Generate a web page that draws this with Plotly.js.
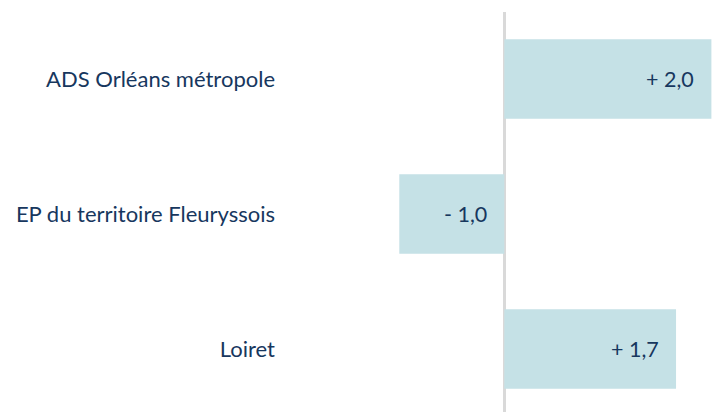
<!DOCTYPE html>
<html><head><meta charset="utf-8">
<script src="https://cdn.plot.ly/plotly-3.0.1.min.js"></script>
<style>html,body{margin:0;padding:0;background:#fff}#c{width:712px;height:412px}</style>
</head><body><div id="c"></div>
<script>
const categories = ["ADS Orléans métropole", "EP du territoire Fleuryssois", "Loiret"];
const values = [2.05, -1.04, 1.70];
const valueLabels = ["+ 2,0", "- 1,0", "+ 1,7"];

const barColor = "#c5e1e6";
const textColor = "#17375e";
const fontFam = "Lato, 'Open Sans', sans-serif";

const trace = {
  type: "bar", orientation: "h",
  y: categories, x: values,
  marker: {color: barColor},
  width: 0.59,
  hoverinfo: "none",
  cliponaxis: true
};

const annotations = categories.map((c, i) => ({
  x: Math.max(values[i], 0), y: c, xref: "x", yref: "y",
  text: valueLabels[i], showarrow: false,
  xanchor: "right", xshift: -15,
  font: {family: fontFam, size: 21.5, color: textColor}
}));

const layout = {
  width: 712, height: 412,
  margin: {l: 280, r: 0, t: 12, b: 0},
  paper_bgcolor: "#fff", plot_bgcolor: "#fff",
  showlegend: false,
  xaxis: {range: [-2.221, 2.056], showgrid: false, showticklabels: false,
          zeroline: true, zerolinecolor: "#d9d9d9", zerolinewidth: 2.5, fixedrange: true},
  yaxis: {type: "category", range: [2.467, -0.496], showgrid: false, zeroline: false,
          ticks: "", ticklabelstandoff: 4,
          tickfont: {family: fontFam, size: 22, color: textColor}},
  annotations: annotations,
  font: {family: fontFam}
};

Plotly.newPlot("c", [trace], layout, {displayModeBar: false, staticPlot: true});
</script></body></html>
